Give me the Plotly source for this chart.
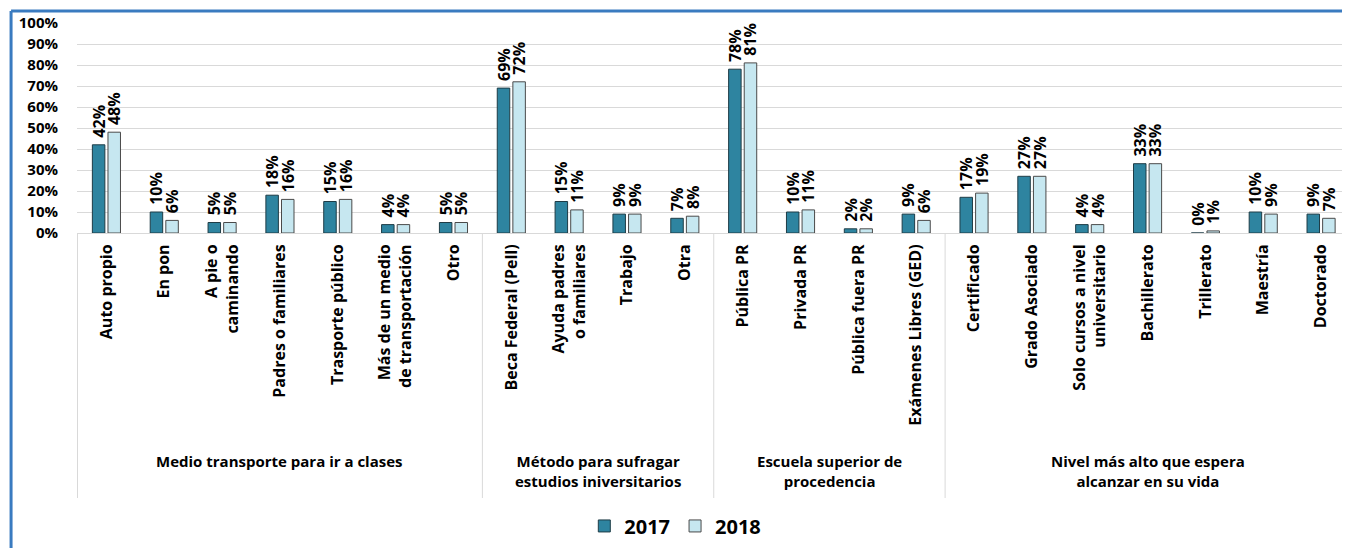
import plotly.graph_objects as go

# =============================================================================
# DATOS
# =============================================================================

categorias = [
    "Auto propio", "En pon", "A pie o caminando", "Padres o familiares",
    "Trasporte público", "Más de un medio de transportación", "Otro",
    "Beca Federal (Pell)", "Ayuda padres o familiares", "Trabajo", "Otra",
    "Pública PR", "Privada PR", "Pública fuera PR", "Exámenes Libres (GED)",
    "Certificado", "Grado Asociado", "Solo cursos a nivel universitario",
    "Bachillerato", "Trillerato", "Maestría", "Doctorado",
]
etiquetas = [
    "Auto propio", "En pon", "A pie o<br>caminando", "Padres o familiares",
    "Trasporte público", "Más de un medio<br>de transportación", "Otro",
    "Beca Federal (Pell)", "Ayuda padres<br>o familiares", "Trabajo", "Otra",
    "Pública PR", "Privada PR", "Pública fuera PR", "Exámenes Libres (GED)",
    "Certificado", "Grado Asociado", "Solo cursos a nivel<br>universitario",
    "Bachillerato", "Trillerato", "Maestría", "Doctorado",
]
v2017 = [42, 10, 5, 18, 15, 4, 5, 69, 15, 9, 7, 78, 10, 2, 9, 17, 27, 4, 33, 0, 10, 9]
v2018 = [48, 6, 5, 16, 16, 4, 5, 72, 11, 9, 8, 81, 11, 2, 6, 19, 27, 4, 33, 1, 9, 7]

grupos = [
    "Medio transporte para ir a clases",
    "Método para sufragar<br>estudios iniversitarios",
    "Escuela superior de<br>procedencia",
    "Nivel más alto que espera<br>alcanzar en su vida",
]
grupo_tam = [7, 4, 4, 7]

# =============================================================================
# CONFIG VISUAL
# =============================================================================

COLOR_2017 = "#2E84A0"
COLOR_2018 = "#C6E7F0"
COLOR_BORDE = "#3A7BC0"
FONT = "Open Sans"

fig = go.Figure()

for nombre, valores, color, borde in [
    ("2017", v2017, COLOR_2017, "#1E3C46"),
    ("2018", v2018, COLOR_2018, "#4A4A4A"),
]:
    fig.add_trace(go.Bar(
        x=categorias, y=valores, name=nombre,
        marker=dict(color=color, line=dict(color=borde, width=1)),
        text=[f"&nbsp;{v}%" for v in valores], textposition="outside", textangle=-90,
        constraintext="none", cliponaxis=False,
        textfont=dict(family=FONT, size=16, color="black", weight="bold"),
    ))

# separadores y etiquetas de grupo
shapes = []
annotations = []
inicio = 0
bordes = [-0.5]
for nombre, n in zip(grupos, grupo_tam):
    centro = inicio + (n - 1) / 2
    annotations.append(dict(
        x=centro, y=-1.03, xref="x", yref="paper", text=nombre,
        showarrow=False, yanchor="top", align="center",
        font=dict(family=FONT, size=15, color="black", weight="bold"),
    ))
    inicio += n
    bordes.append(inicio - 0.5)

for b in bordes[:-1]:
    shapes.append(dict(
        type="line", xref="x", yref="paper", x0=b, x1=b, y0=0, y1=-1.262,
        line=dict(color="#D9D9D9", width=1),
    ))

# marco azul (solo arriba e izquierda, el resto queda fuera del recorte)
shapes.append(dict(
    type="line", xref="paper", yref="paper",
    x0=-0.0518, x1=1.2, y0=1.057, y1=1.057,
    line=dict(color=COLOR_BORDE, width=3),
))
shapes.append(dict(
    type="line", xref="paper", yref="paper",
    x0=-0.0518, x1=-0.0518, y0=-1.7, y1=1.057,
    line=dict(color=COLOR_BORDE, width=3),
))

# la página añade 8 px de margen, así que la figura es 8 px más pequeña
fig.update_layout(
    width=1342, height=540,
    plot_bgcolor="white", paper_bgcolor="white",
    margin=dict(l=69, r=0, t=15, b=315, autoexpand=False),
    barmode="group", bargap=0.46, bargroupgap=0.2,
    font=dict(family=FONT, color="black"),
    showlegend=True,
    legend=dict(
        orientation="h", x=0.47, y=-1.395, xanchor="center", yanchor="middle",
        font=dict(family=FONT, size=20, color="black", weight="bold"),
        traceorder="normal",
    ),
    shapes=shapes,
    annotations=annotations,
)

fig.update_yaxes(
    range=[0, 100], dtick=10, ticksuffix="%",
    showgrid=True, gridcolor="#D9D9D9", gridwidth=1,
    zeroline=False, showline=False,
    ticklabelstandoff=18,
    tickfont=dict(family=FONT, size=15, color="black", weight="bold"),
)
fig.update_xaxes(
    tickvals=categorias, ticktext=etiquetas, tickangle=-90,
    showline=True, linecolor="#D9D9D9", linewidth=1,
    showgrid=False, ticks="", ticklabelstandoff=4,
    tickfont=dict(family=FONT, size=16, color="black", weight="bold"),
)

fig.write_html("out.html")
